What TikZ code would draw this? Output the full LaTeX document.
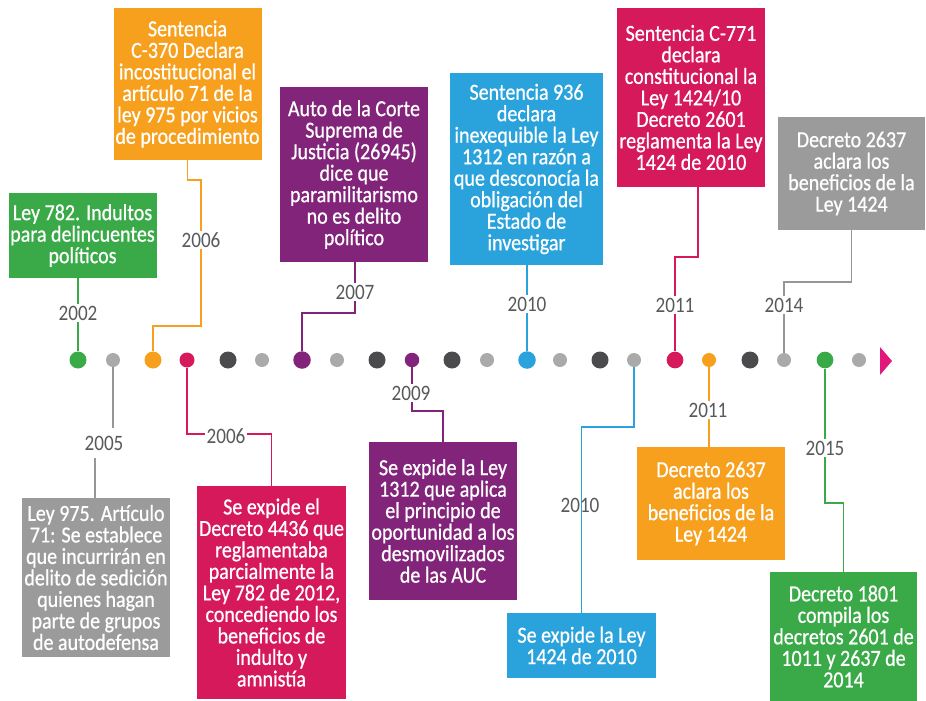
\documentclass[tikz,border=0pt]{standalone}
\usepackage{fontspec}
\newfontfamily\tlfont[FakeStretch=0.87]{Carlito}
\newfontfamily\boxfont[FakeStretch=0.87,FakeBold=0.7]{Carlito}
\usetikzlibrary{backgrounds}
\definecolor{cgreen}{RGB}{58,170,72}
\definecolor{corange}{RGB}{247,160,30}
\definecolor{cpurple}{RGB}{130,37,122}
\definecolor{cblue}{RGB}{42,163,220}
\definecolor{ccrimson}{RGB}{214,25,90}
\definecolor{cgraybox}{RGB}{155,155,155}
\definecolor{cdark}{RGB}{75,75,77}
\definecolor{clight}{RGB}{170,170,170}
\definecolor{cgrayline}{RGB}{150,150,152}
\definecolor{cmagenta}{RGB}{225,25,120}
\definecolor{labgray}{RGB}{88,89,91}
\begin{document}
\begin{tikzpicture}[x=1pt,y=-1pt,
  ebox/.style={rectangle, fill=#1, text=white, align=center, inner sep=0pt,
    minimum width=148pt, font=\boxfont\fontsize{23}{21.5}\selectfont},
  ylab/.style={inner sep=1.5pt, fill=white, text=labgray, font=\tlfont\fontsize{22}{22}\selectfont},
  ylabnf/.style={inner sep=1.5pt, text=labgray, font=\tlfont\fontsize{22}{22}\selectfont},
  conn/.style={draw=#1, line width=1.9pt},
  tdot/.style={circle, fill=#1, inner sep=0pt, draw=none}]

% ---- boxes (top) ----
\node[ebox=cgreen, minimum height=85pt] (g1) at (82.5,235.5) {Ley 782. Indultos\\para delincuentes\\políticos};
\node[ebox=corange, minimum height=152pt] (o1) at (187.5,84) {Sentencia\\C-370 Declara\\incostitucional el\\artículo 71 de la\\ley 975 por vicios\\de procedimiento};
\node[ebox=cpurple, minimum height=175pt] (pu1) at (354,174.5) {Auto de la Corte\\Suprema de\\Justicia (26945)\\dice que\\paramilitarismo\\no es delito\\político};
\node[ebox=cblue, minimum height=192pt, minimum width=153pt] (b1) at (526.5,169) {Sentencia 936\\declara\\inexequible la Ley\\1312 en razón a\\que desconocía la\\obligación del\\Estado de\\investigar};
\node[ebox=ccrimson, minimum height=179pt] (c1) at (691,97.5) {Sentencia C-771\\declara\\constitucional la\\Ley 1424/10\\Decreto 2601\\reglamenta la Ley\\1424 de 2010};
\node[ebox=cgraybox, minimum height=113pt, minimum width=147pt] (gy1) at (851.5,173.5) {Decreto 2637\\aclara los\\beneficios de la\\Ley 1424};

% ---- boxes (bottom) ----
\node[ebox=cgraybox, minimum height=159pt] (gy2) at (96,577.5) {Ley 975. Artículo\\71: Se establece\\que incurrirán en\\delito de sedición\\quienes hagan\\parte de grupos\\de autodefensa};
\node[ebox=ccrimson, minimum height=213pt, minimum width=149pt] (cr2) at (271.5,592.5) {Se expide el\\Decreto 4436 que\\reglamentaba\\parcialmente la\\Ley 782 de 2012,\\concediendo los\\beneficios de\\indulto y\\amnistía};
\node[ebox=cpurple, minimum height=158pt] (pu2) at (443,521) {Se expide la Ley\\1312 que aplica\\el principio de\\oportunidad a los\\desmovilizados\\de las AUC};
\node[ebox=cblue, minimum height=65pt, minimum width=149pt] (b2) at (581.5,645.5) {Se expide la Ley\\1424 de 2010};
\node[ebox=corange, minimum height=113pt] (o2) at (711,503.5) {Decreto 2637\\aclara los\\beneficios de la\\Ley 1424};
\node[ebox=cgreen, minimum height=129pt, minimum width=147pt] (g2) at (843.5,636.5) {Decreto 1801\\compila los\\decretos 2601 de\\1011 y 2637 de\\2014};

% ---- timeline dots ----
\node[tdot=cgreen, minimum size=17pt] (d1) at (78,360) {};
\node[tdot=clight, minimum size=14pt] (d2) at (113,360) {};
\node[tdot=corange, minimum size=17pt] (d3) at (153,360) {};
\node[tdot=ccrimson, minimum size=15pt] (d4) at (187,360) {};
\node[tdot=cdark, minimum size=17pt] (d5) at (228,360) {};
\node[tdot=clight, minimum size=14pt] (d6) at (262,360) {};
\node[tdot=cpurple, minimum size=17.5pt] (d7) at (302,360) {};
\node[tdot=clight, minimum size=14pt] (d8) at (337,360) {};
\node[tdot=cdark, minimum size=17pt] (d9) at (377,360) {};
\node[tdot=cpurple, minimum size=14.5pt] (d10) at (412,360) {};
\node[tdot=cdark, minimum size=17pt] (d11) at (452,360) {};
\node[tdot=clight, minimum size=14pt] (d12) at (487,360) {};
\node[tdot=cblue, minimum size=17.5pt] (d13) at (527,360) {};
\node[tdot=clight, minimum size=14pt] (d14) at (560,360) {};
\node[tdot=cdark, minimum size=17pt] (d15) at (600,360) {};
\node[tdot=clight, minimum size=14pt] (d16) at (634,360) {};
\node[tdot=ccrimson, minimum size=16.7pt] (d17) at (675,360) {};
\node[tdot=corange, minimum size=14pt] (d18) at (709,360) {};
\node[tdot=cdark, minimum size=17pt] (d19) at (750,360) {};
\node[tdot=clight, minimum size=14pt] (d20) at (784,360) {};
\node[tdot=cgreen, minimum size=16.7pt] (d21) at (825,360) {};
\node[tdot=clight, minimum size=14pt] (d22) at (859,360) {};
\coordinate (ta) at (880,347);
\coordinate (tb) at (880,375);
\coordinate (tc) at (892,361);
\fill[cmagenta] (ta) -- (tc) -- (tb) -- cycle;

% ---- year labels ----
\node[ylab] (y2002) at (78,313) {2002};
\node[ylab] (y2006a) at (201,240) {2006};
\node[ylab] (y2007) at (355,292) {2007};
\node[ylab] (y2010a) at (527,304) {2010};
\node[ylab] (y2011a) at (675,305) {2011};
\node[ylab] (y2014) at (784,305) {2014};
\node[ylab] (y2005) at (104,443) {2005};
\node[ylab] (y2006b) at (226,436) {2006};
\node[ylab] (y2009) at (411,393) {2009};
\node[ylabnf] (y2010b) at (580,505) {2010};
\node[ylab] (y2011b) at (708,410) {2011};
\node[ylab] (y2015) at (825,448) {2015};

% ---- connectors (behind) ----
\begin{pgfonlayer}{background}
\fill[white] (0,0) rectangle (926,701);
\useasboundingbox (0,0) rectangle (926,701);
\draw[conn=cgreen] (g1.south -| d1) -- (d1);
\draw[conn=corange] (o1.south) -- ++(0,20) -| (y2006a.north) -- (y2006a.south) -- ++(0,77) -| (d3);
\draw[conn=cpurple] (pu1.south -| y2007) -- (y2007.north) (y2007.south) -- ++(0,12) -| (d7);
\draw[conn=cblue] (b1.south -| d13) -- (d13);
\draw[conn=ccrimson] ([xshift=7pt]c1.south) -- ++(0,70) -| (d17);
\draw[conn=cgrayline] (gy1.south) -- ++(0,52) -| (d20);
\draw[conn=cgrayline] (d2) -- ++(0,68);
\draw[conn=cgrayline] ([xshift=-1pt]gy2.north) -- ++(0,-40);
\draw[conn=ccrimson] (d4) -- ++(0,74) -| (cr2.north);
\draw[conn=cpurple] (d10) -- ++(0,51) -| (pu2.north);
\draw[conn=cblue] (d16) -- ++(0,67) -| (b2.north);
\draw[conn=corange] (d18) -- (o2.north -| d18);
\draw[conn=cgreen] (d21) -- ++(0,143) -| (g2.north);
\end{pgfonlayer}
\end{tikzpicture}
\end{document}
